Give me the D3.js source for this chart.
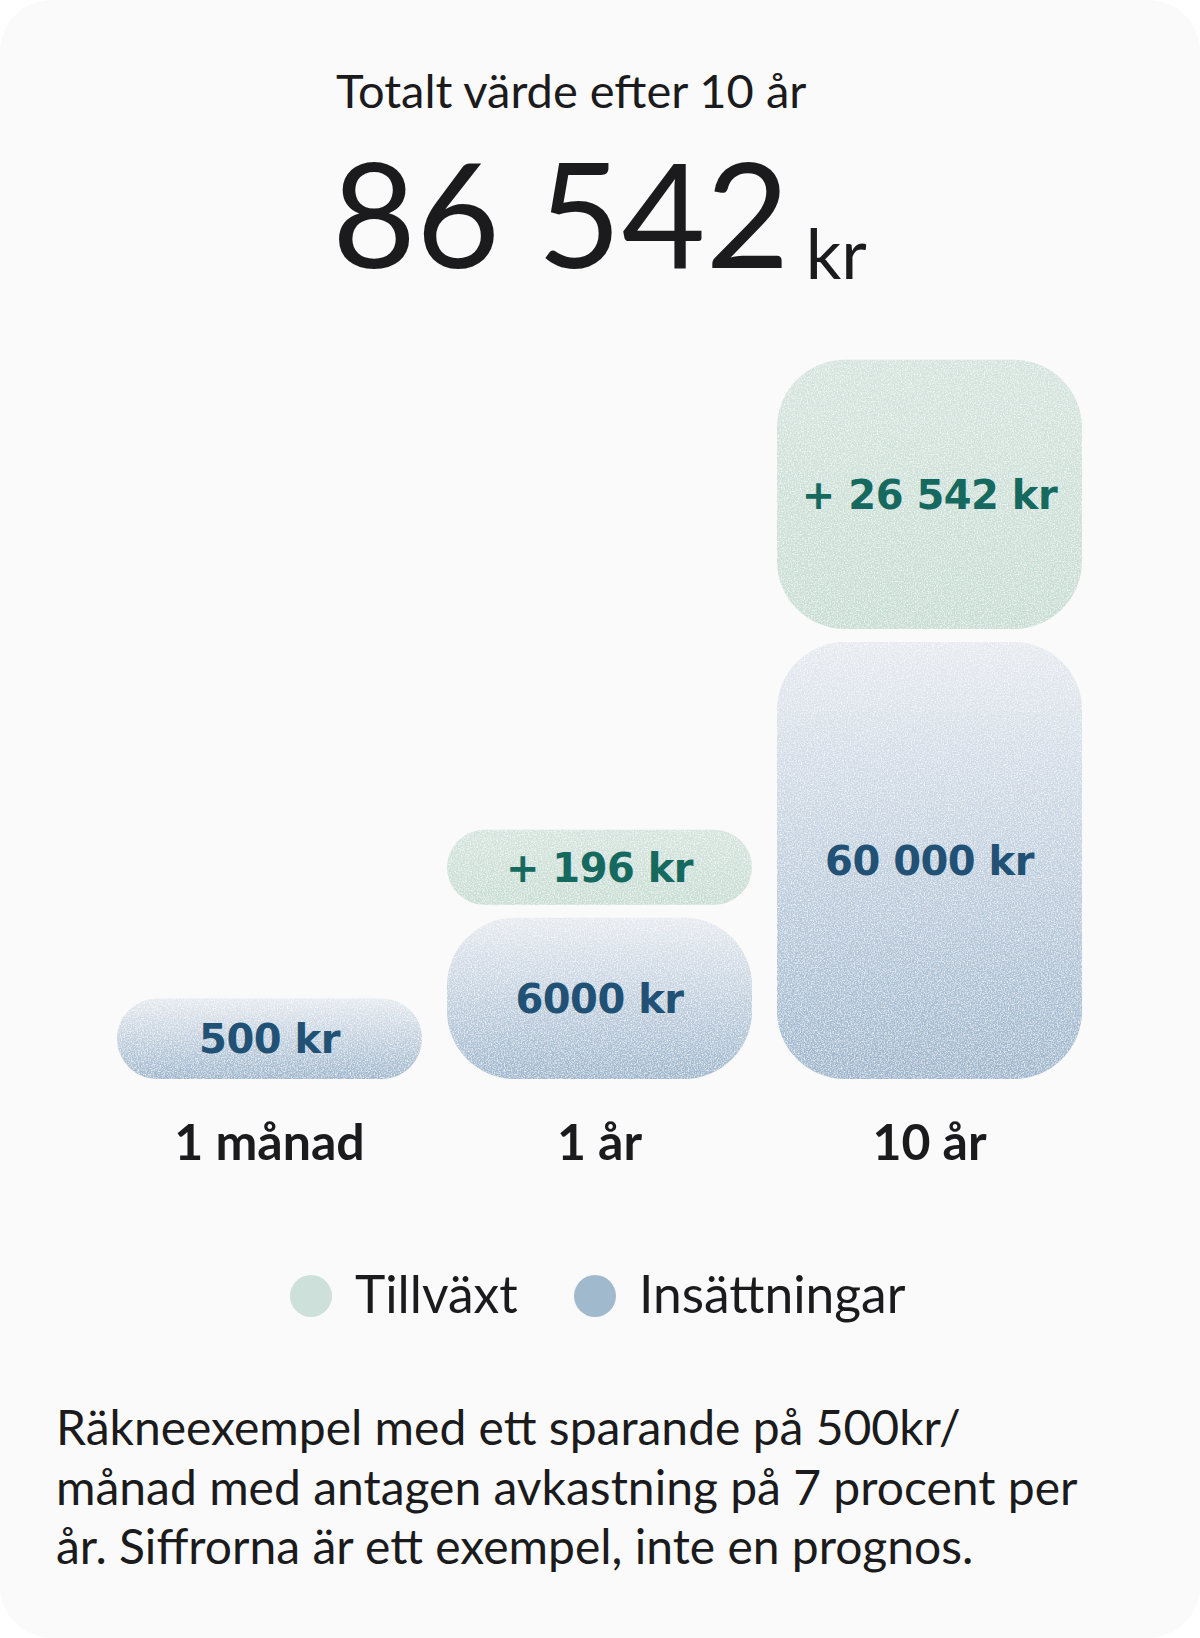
<!DOCTYPE html>
<html>
<head>
<meta charset="utf-8">
<script src="https://cdn.jsdelivr.net/npm/d3@7"></script>
<style>
  html, body { margin: 0; padding: 0; background: #ffffff; }
  svg { display: block; }
</style>
</head>
<body>
<svg id="chart" width="1200" height="1638"></svg>
<script>
// ---------------- data ----------------
const titleText = "Totalt värde efter 10 år";
const totalValue = 86542;
const currency = "kr";
const categories = ["1 månad", "1 år", "10 år"];
const deposits = [500, 6000, 60000];
const growth = [0, 196, 26542];
const legendLabels = ["Tillväxt", "Insättningar"];
const footnoteLines = [
  "Räkneexempel med ett sparande på 500kr/",
  "månad med antagen avkastning på 7 procent per",
  "år. Siffrorna är ett exempel, inte en prognos."
];

// ---------------- style ----------------
const W = 1200, H = 1638;
const mainFont = "Lato, 'Noto Sans', sans-serif";
const labelFont = "'DejaVu Sans', Verdana, sans-serif";
const ink = "#1b1a1c";
const depTop = "#e6eaf0", depBottom = "#9db6cd";
const groTop = "#d4e3dd", groBottom = "#c7ddd4";
const depText = "#215175", groText = "#16695e";
const legendColors = ["#cde0da", "#a1b9cd"];

const sv = d3.formatLocale({decimal: ",", thousands: "\u00a0", grouping: [3], currency: ["", " kr"]});
const group = sv.format(",d");
const fmt = v => v >= 10000 ? group(v) : String(v);

const svg = d3.select("#chart");
const defs = svg.append("defs");

const gD = defs.append("linearGradient").attr("id", "gDep").attr("x1", 0).attr("y1", 0).attr("x2", 0).attr("y2", 1);
gD.append("stop").attr("offset", "0%").attr("stop-color", depTop);
gD.append("stop").attr("offset", "100%").attr("stop-color", depBottom);
const gG = defs.append("linearGradient").attr("id", "gGro").attr("x1", 0).attr("y1", 0).attr("x2", 0).attr("y2", 1);
gG.append("stop").attr("offset", "0%").attr("stop-color", groTop);
gG.append("stop").attr("offset", "100%").attr("stop-color", groBottom);

const f = defs.append("filter").attr("id", "grain").attr("x", 0).attr("y", 0).attr("width", 1).attr("height", 1);
f.append("feTurbulence").attr("type", "fractalNoise").attr("baseFrequency", 0.7).attr("numOctaves", 2).attr("seed", 4).attr("result", "noise");
f.append("feColorMatrix").attr("in", "noise").attr("type", "matrix")
  .attr("values", "0 0 0 0 1  0 0 0 0 1  0 0 0 0 1  1.7 0 0 0 -0.68").attr("result", "spk");
f.append("feComposite").attr("in", "spk").attr("in2", "SourceGraphic").attr("operator", "in").attr("result", "spk2");
const fm = f.append("feMerge");
fm.append("feMergeNode").attr("in", "SourceGraphic");
fm.append("feMergeNode").attr("in", "spk2");

// card
svg.append("rect").attr("x", 0).attr("y", 0).attr("width", W).attr("height", H)
  .attr("rx", 52).attr("fill", "#fafafa");

// header
const headX = 336;
svg.append("text").attr("x", headX).attr("y", 108)
  .attr("font-family", mainFont).attr("font-size", 47).attr("fill", ink)
  .text(titleText);
const big = svg.append("text").attr("x", headX - 4).attr("y", 268)
  .attr("font-family", mainFont).attr("font-size", 145).attr("fill", ink)
  .text(group(totalValue));
const bigW = big.node().getComputedTextLength();
svg.append("text").attr("x", headX - 4 + bigW + 16).attr("y", 279)
  .attr("font-family", mainFont).attr("font-size", 70).attr("fill", ink)
  .text(currency);

// scales
const baseY = 1079, stackGap = 13, maxR = 68;
const x = d3.scaleBand().domain(categories).range([117, 1082]).paddingInner(0.0758).paddingOuter(0);
const hDep = d3.scalePow().exponent(0.55).domain([0, d3.max(deposits)]).range([53, 437]);
const hGro = d3.scalePow().exponent(0.55).domain([0, d3.max(deposits)]).range([61, 387]);

const rows = categories.map((c, i) => {
  const dh = hDep(deposits[i]);
  const dy = baseY - dh;
  const gh = growth[i] > 0 ? hGro(growth[i]) : 0;
  const gy = dy - stackGap - gh;
  return {c, dep: deposits[i], gro: growth[i], dh, dy, gh, gy};
});

const bars = svg.append("g");
// deposit bars
bars.selectAll("rect.dep").data(rows).join("rect").attr("class", "dep")
  .attr("x", d => x(d.c)).attr("width", x.bandwidth())
  .attr("y", d => d.dy).attr("height", d => d.dh)
  .attr("rx", d => Math.min(maxR, d.dh / 2)).attr("ry", d => Math.min(maxR, d.dh / 2))
  .attr("fill", "url(#gDep)").attr("filter", "url(#grain)");
// growth bars
bars.selectAll("rect.gro").data(rows.filter(d => d.gro > 0)).join("rect").attr("class", "gro")
  .attr("x", d => x(d.c)).attr("width", x.bandwidth())
  .attr("y", d => d.gy).attr("height", d => d.gh)
  .attr("rx", d => Math.min(maxR, d.gh / 2)).attr("ry", d => Math.min(maxR, d.gh / 2))
  .attr("fill", "url(#gGro)").attr("filter", "url(#grain)");

// bar labels
const labSize = 40;
bars.selectAll("text.dep").data(rows).join("text").attr("class", "dep")
  .attr("x", d => x(d.c) + x.bandwidth() / 2)
  .attr("y", d => d.dy + d.dh / 2 + labSize * 0.36)
  .attr("text-anchor", "middle").attr("font-family", labelFont).attr("font-weight", 700)
  .attr("font-size", labSize).attr("letter-spacing", -0.5).attr("fill", depText)
  .text(d => fmt(d.dep) + " " + currency);
bars.selectAll("text.gro").data(rows.filter(d => d.gro > 0)).join("text").attr("class", "gro")
  .attr("x", d => x(d.c) + x.bandwidth() / 2)
  .attr("y", d => d.gy + d.gh / 2 + labSize * 0.36)
  .attr("text-anchor", "middle").attr("font-family", labelFont).attr("font-weight", 700)
  .attr("font-size", labSize).attr("letter-spacing", -0.5).attr("fill", groText)
  .text(d => "+ " + fmt(d.gro) + " " + currency);

// category axis labels
svg.append("g").selectAll("text").data(categories).join("text")
  .attr("x", d => x(d) + x.bandwidth() / 2).attr("y", 1160)
  .attr("text-anchor", "middle").attr("font-family", mainFont).attr("font-weight", 700)
  .attr("font-size", 50).attr("fill", ink)
  .text(d => d);

// legend
const legX = [311, 595];
const leg = svg.append("g").selectAll("g").data(legendLabels).join("g");
leg.append("circle").attr("cx", (d, i) => legX[i]).attr("cy", 1296).attr("r", 21)
  .attr("fill", (d, i) => legendColors[i]);
leg.append("text").attr("x", (d, i) => legX[i] + 44).attr("y", 1313)
  .attr("font-family", mainFont).attr("font-size", 51.5).attr("fill", ink)
  .text(d => d);

// footnote
svg.append("g").selectAll("text").data(footnoteLines).join("text")
  .attr("x", 56).attr("y", (d, i) => 1445 + i * 59.5)
  .attr("font-family", mainFont).attr("font-size", 48).attr("fill", ink)
  .text(d => d);
</script>
</body>
</html>
